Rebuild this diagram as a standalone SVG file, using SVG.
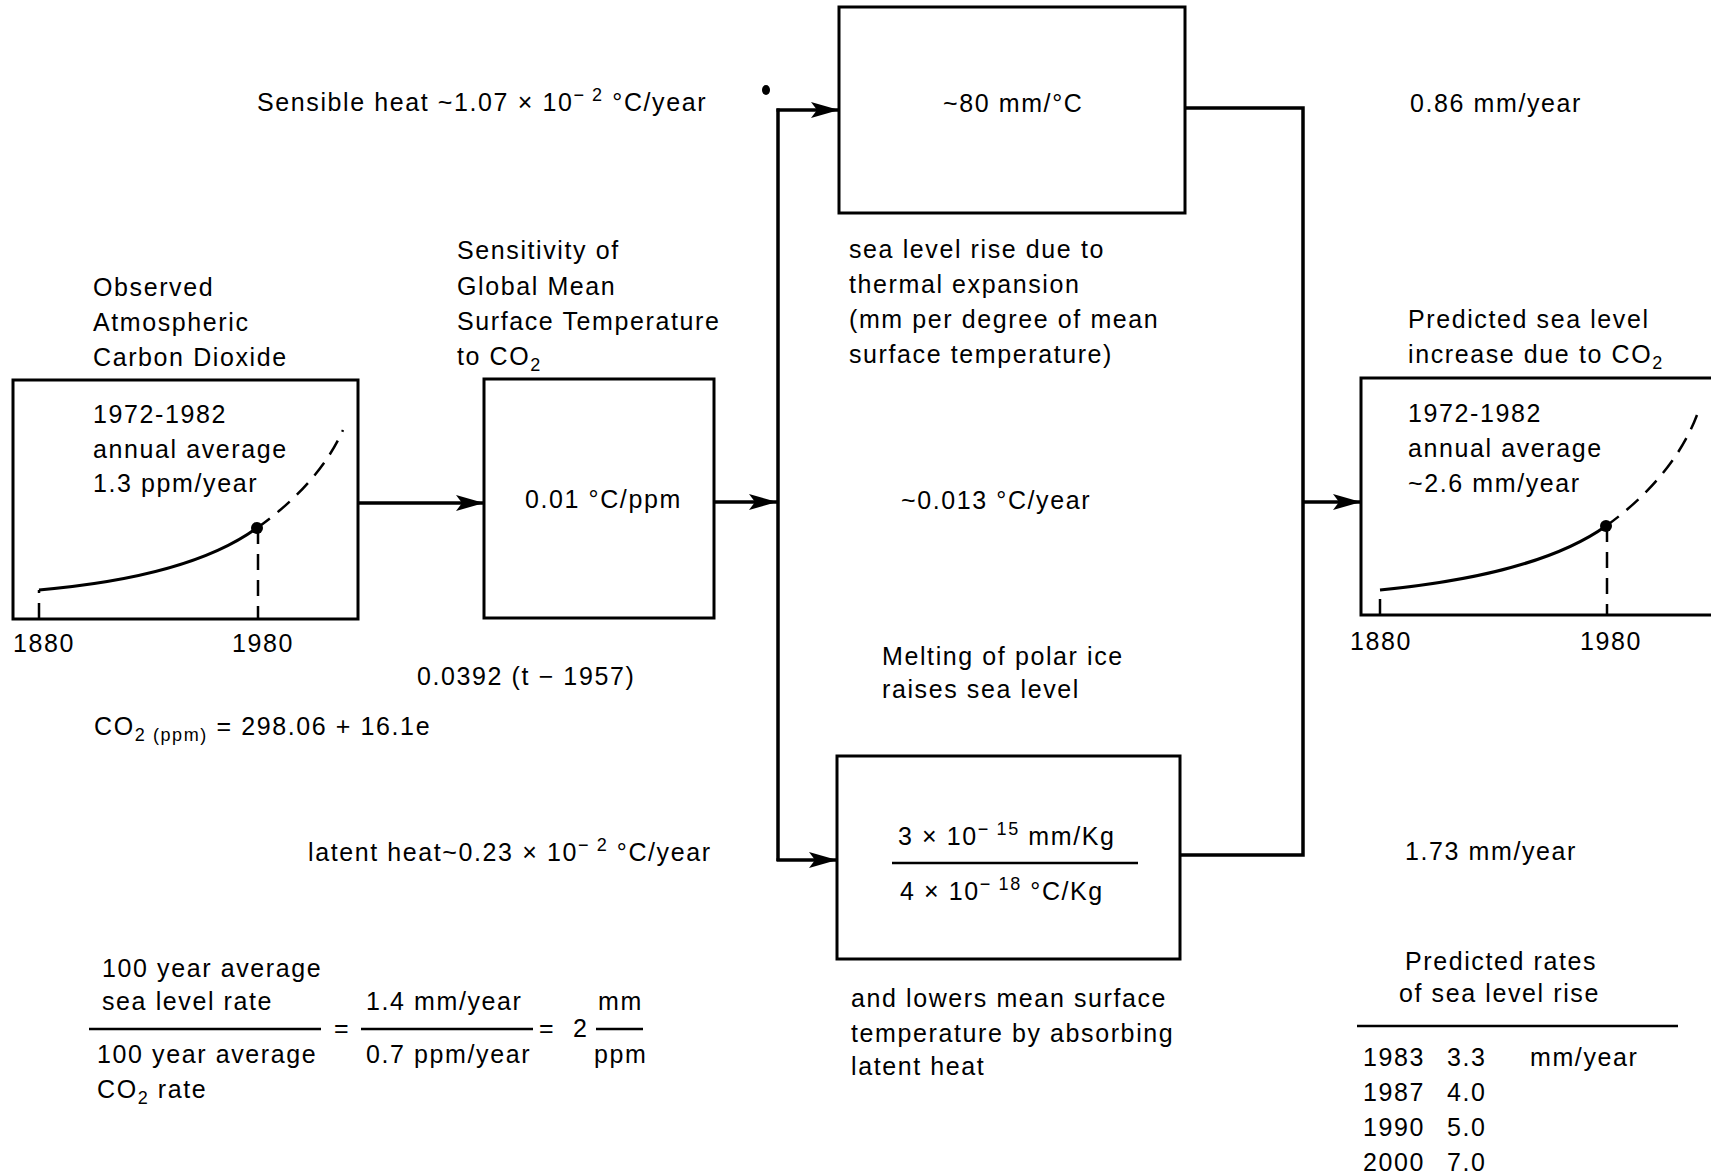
<svg xmlns="http://www.w3.org/2000/svg" width="1711" height="1176" viewBox="0 0 1711 1176">
<defs>
<style>
.t{font-family:"Liberation Sans",Arial,sans-serif;font-size:25px;letter-spacing:1.6px;fill:#000}
.s{font-size:18px}
.box{fill:none;stroke:#000;stroke-width:3}
.ln{fill:none;stroke:#000;stroke-width:3.5}
.crv{fill:none;stroke:#000;stroke-width:3}
.dash{fill:none;stroke:#000;stroke-width:2.5;stroke-dasharray:16 10}
.rule{stroke:#000;stroke-width:2.5}
</style>
<marker id="ah" markerUnits="userSpaceOnUse" markerWidth="30" markerHeight="20" refX="28" refY="9" orient="auto">
<path d="M0,1 L28,9 L0,17 L6,9 z" fill="#000"/>
</marker>
</defs>
<rect width="1711" height="1176" fill="#fff"/>

<g id="connectors">
<path class="ln" d="M358,503 H484" marker-end="url(#ah)"/>
<path class="ln" d="M714,502 H777" marker-end="url(#ah)"/>
<path class="ln" d="M778,108.5 V861"/>
<path class="ln" d="M776.5,110 H839" marker-end="url(#ah)"/>
<path class="ln" d="M776.5,860 H837" marker-end="url(#ah)"/>
<path class="ln" d="M1185,108 H1303 V855 H1180"/>
<path class="ln" d="M1303,502 H1361" marker-end="url(#ah)"/>
<ellipse cx="766" cy="90" rx="4" ry="5" fill="#000"/>
</g>

<g id="node-observed-co2">
<text class="t" x="93" y="296">Observed</text>
<text class="t" x="93" y="331">Atmospheric</text>
<text class="t" x="93" y="366">Carbon Dioxide</text>
<rect class="box" x="13" y="380" width="345" height="239"/>
<text class="t" x="93" y="423">1972-1982</text>
<text class="t" x="93" y="458">annual average</text>
<text class="t" x="93" y="492">1.3 ppm/year</text>
<path class="dash" d="M39,619 V590" stroke-dasharray="10 8"/>
<path class="crv" d="M39,590 C120,583 205,566 257,528"/>
<path class="dash" d="M257,528 C295,501 326,468 343,430"/>
<path class="dash" d="M258,528 V619" stroke-dasharray="14 9"/>
<circle cx="257" cy="528" r="6" fill="#000"/>
<text class="t" x="13" y="652">1880</text>
<text class="t" x="232" y="652">1980</text>
</g>

<g id="node-sensitivity">
<text class="t" x="457" y="259">Sensitivity of</text>
<text class="t" x="457" y="295">Global Mean</text>
<text class="t" x="457" y="330">Surface Temperature</text>
<text class="t" x="457" y="365">to CO<tspan class="s" dy="6">2</tspan></text>
<rect class="box" x="484" y="379" width="230" height="239"/>
<text class="t" x="525" y="508">0.01 °C/ppm</text>
</g>

<g id="node-thermal">
<rect class="box" x="839" y="7" width="346" height="206"/>
<text class="t" x="943" y="112">~80 mm/°C</text>
<text class="t" x="849" y="258">sea level rise due to</text>
<text class="t" x="849" y="293">thermal expansion</text>
<text class="t" x="849" y="328">(mm per degree of mean</text>
<text class="t" x="849" y="363">surface temperature)</text>
</g>

<g id="node-ice">
<text class="t" x="882" y="665">Melting of polar ice</text>
<text class="t" x="882" y="698">raises sea level</text>
<rect class="box" x="837" y="756" width="343" height="203"/>
<text class="t" x="898" y="845">3 × 10<tspan class="s" dy="-10">− 15</tspan><tspan dy="10"> mm/Kg</tspan></text>
<line class="rule" x1="892" y1="863" x2="1138" y2="863"/>
<text class="t" x="900" y="900">4 × 10<tspan class="s" dy="-10">− 18</tspan><tspan dy="10"> °C/Kg</tspan></text>
<text class="t" x="851" y="1007">and lowers mean surface</text>
<text class="t" x="851" y="1042">temperature by absorbing</text>
<text class="t" x="851" y="1075">latent heat</text>
</g>

<g id="node-predicted">
<text class="t" x="1408" y="328">Predicted sea level</text>
<text class="t" x="1408" y="363">increase due to CO<tspan class="s" dy="6">2</tspan></text>
<rect class="box" x="1361" y="378" width="360" height="237"/>
<text class="t" x="1408" y="422">1972-1982</text>
<text class="t" x="1408" y="457">annual average</text>
<text class="t" x="1408" y="492">~2.6 mm/year</text>
<path class="dash" d="M1380,615 V590" stroke-dasharray="10 8"/>
<path class="crv" d="M1380,590 C1460,582 1550,566 1606,526"/>
<path class="dash" d="M1606,526 C1645,498 1680,460 1697,415"/>
<path class="dash" d="M1607,526 V615" stroke-dasharray="14 9"/>
<circle cx="1606" cy="526" r="6" fill="#000"/>
<text class="t" x="1350" y="650">1880</text>
<text class="t" x="1580" y="650">1980</text>
</g>

<g id="labels">
<text class="t" x="257" y="111">Sensible heat ~1.07 × 10<tspan class="s" dy="-10">− 2</tspan><tspan dy="10"> °C/year</tspan></text>
<text class="t" x="1410" y="112">0.86 mm/year</text>
<text class="t" x="901" y="509">~0.013 °C/year</text>
<text class="t" x="417" y="685">0.0392 (t − 1957)</text>
<text class="t" x="94" y="735">CO<tspan class="s" dy="6">2 (ppm)</tspan><tspan dy="-6"> = 298.06 + 16.1e</tspan></text>
<text class="t" x="308" y="861">latent heat~0.23 × 10<tspan class="s" dy="-10">− 2</tspan><tspan dy="10"> °C/year</tspan></text>
<text class="t" x="1405" y="860">1.73 mm/year</text>
</g>

<g id="equation">
<text class="t" x="102" y="977">100 year average</text>
<text class="t" x="102" y="1010">sea level rate</text>
<line class="rule" x1="89" y1="1029" x2="321" y2="1029"/>
<text class="t" x="97" y="1063">100 year average</text>
<text class="t" x="97" y="1098">CO<tspan class="s" dy="6">2</tspan><tspan dy="-6"> rate</tspan></text>
<text class="t" x="334" y="1037">=</text>
<text class="t" x="366" y="1010">1.4 mm/year</text>
<line class="rule" x1="361" y1="1029" x2="533" y2="1029"/>
<text class="t" x="366" y="1063">0.7 ppm/year</text>
<text class="t" x="539" y="1037">=</text>
<text class="t" x="573" y="1037">2</text>
<text class="t" x="598" y="1010">mm</text>
<line class="rule" x1="596" y1="1029" x2="643" y2="1029"/>
<text class="t" x="594" y="1063">ppm</text>
</g>

<g id="rates-table">
<text class="t" x="1405" y="970">Predicted rates</text>
<text class="t" x="1399" y="1002">of sea level rise</text>
<line class="rule" x1="1357" y1="1026" x2="1678" y2="1026"/>
<text class="t" x="1363" y="1066">1983</text><text class="t" x="1447" y="1066">3.3</text><text class="t" x="1530" y="1066">mm/year</text>
<text class="t" x="1363" y="1101">1987</text><text class="t" x="1447" y="1101">4.0</text>
<text class="t" x="1363" y="1136">1990</text><text class="t" x="1447" y="1136">5.0</text>
<text class="t" x="1363" y="1171">2000</text><text class="t" x="1447" y="1171">7.0</text>
</g>
</svg>
